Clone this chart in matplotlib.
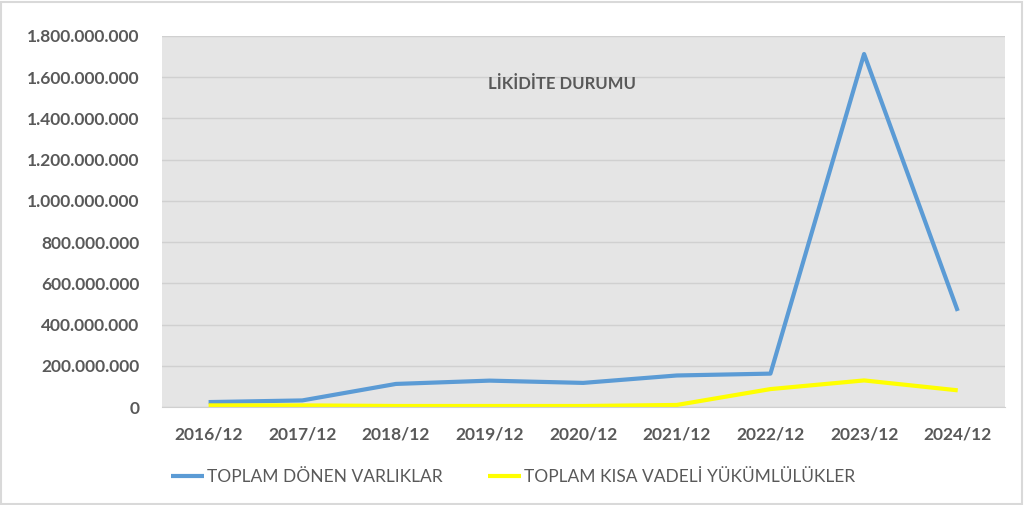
import matplotlib.pyplot as plt
from matplotlib.patches import Rectangle
from matplotlib.ticker import FuncFormatter

# Data
periods = ["2016/12", "2017/12", "2018/12", "2019/12", "2020/12",
           "2021/12", "2022/12", "2023/12", "2024/12"]
donen_varliklar = [24e6, 32e6, 112e6, 128e6, 117e6, 153e6, 162e6, 1712e6, 466e6]
kisa_vadeli = [8e6, 8e6, 5e6, 5e6, 5e6, 10e6, 87e6, 129e6, 81e6]

text_color = "#595959"
plt.rcParams['font.family'] = ['Lato', 'DejaVu Sans']

fig = plt.figure(figsize=(10.24, 5.05), dpi=100)
ax = fig.add_axes([0.158, 0.194, 0.823, 0.735])

x = range(len(periods))
ax.plot(x, donen_varliklar, color="#5b9bd5", lw=3, label="TOPLAM DÖNEN VARLIKLAR",
        solid_joinstyle="round", solid_capstyle="butt")
ax.plot(x, kisa_vadeli, color="#ffff00", lw=3, label="TOPLAM KISA VADELİ YÜKÜMLÜLÜKLER",
        solid_joinstyle="round", solid_capstyle="butt")

ax.set_facecolor("#e5e5e5")
ax.set_xlim(-0.5, len(periods) - 0.5)
ax.set_ylim(0, 1.8e9)
ax.set_yticks([i * 2e8 for i in range(10)])
ax.yaxis.set_major_formatter(FuncFormatter(lambda v, p: f"{int(v):,}".replace(",", ".")))
ax.set_xticks(list(x))
ax.set_xticklabels(periods)
ax.grid(axis="y", color="#d0d0d0", lw=1)
ax.set_axisbelow(True)
for s in ["top", "right", "left"]:
    ax.spines[s].set_visible(False)
ax.spines["bottom"].set_color("#d0d0d0")
ax.tick_params(length=0, colors=text_color, labelsize=12.5)
for lbl in ax.get_xticklabels() + ax.get_yticklabels():
    lbl.set_fontweight("bold")
ax.tick_params(axis="y", pad=16)
ax.tick_params(axis="x", pad=14)

ax.text(0.475, 0.87, "LİKİDİTE DURUMU", transform=ax.transAxes, ha="center", va="center",
        fontsize=12, fontweight="bold", color=text_color)

leg = fig.legend(loc="center", bbox_to_anchor=(0.501, 0.055), ncol=2, frameon=False,
                 fontsize=12.5, handlelength=1.9, handletextpad=0.2, columnspacing=2.6)
for t in leg.get_texts():
    t.set_color(text_color)

fig.patches.append(Rectangle((0.001, 0.002), 0.997, 0.995, transform=fig.transFigure,
                             fill=False, edgecolor="#d9d9d9", lw=1.5))

fig.savefig("out.png", dpi=100)
